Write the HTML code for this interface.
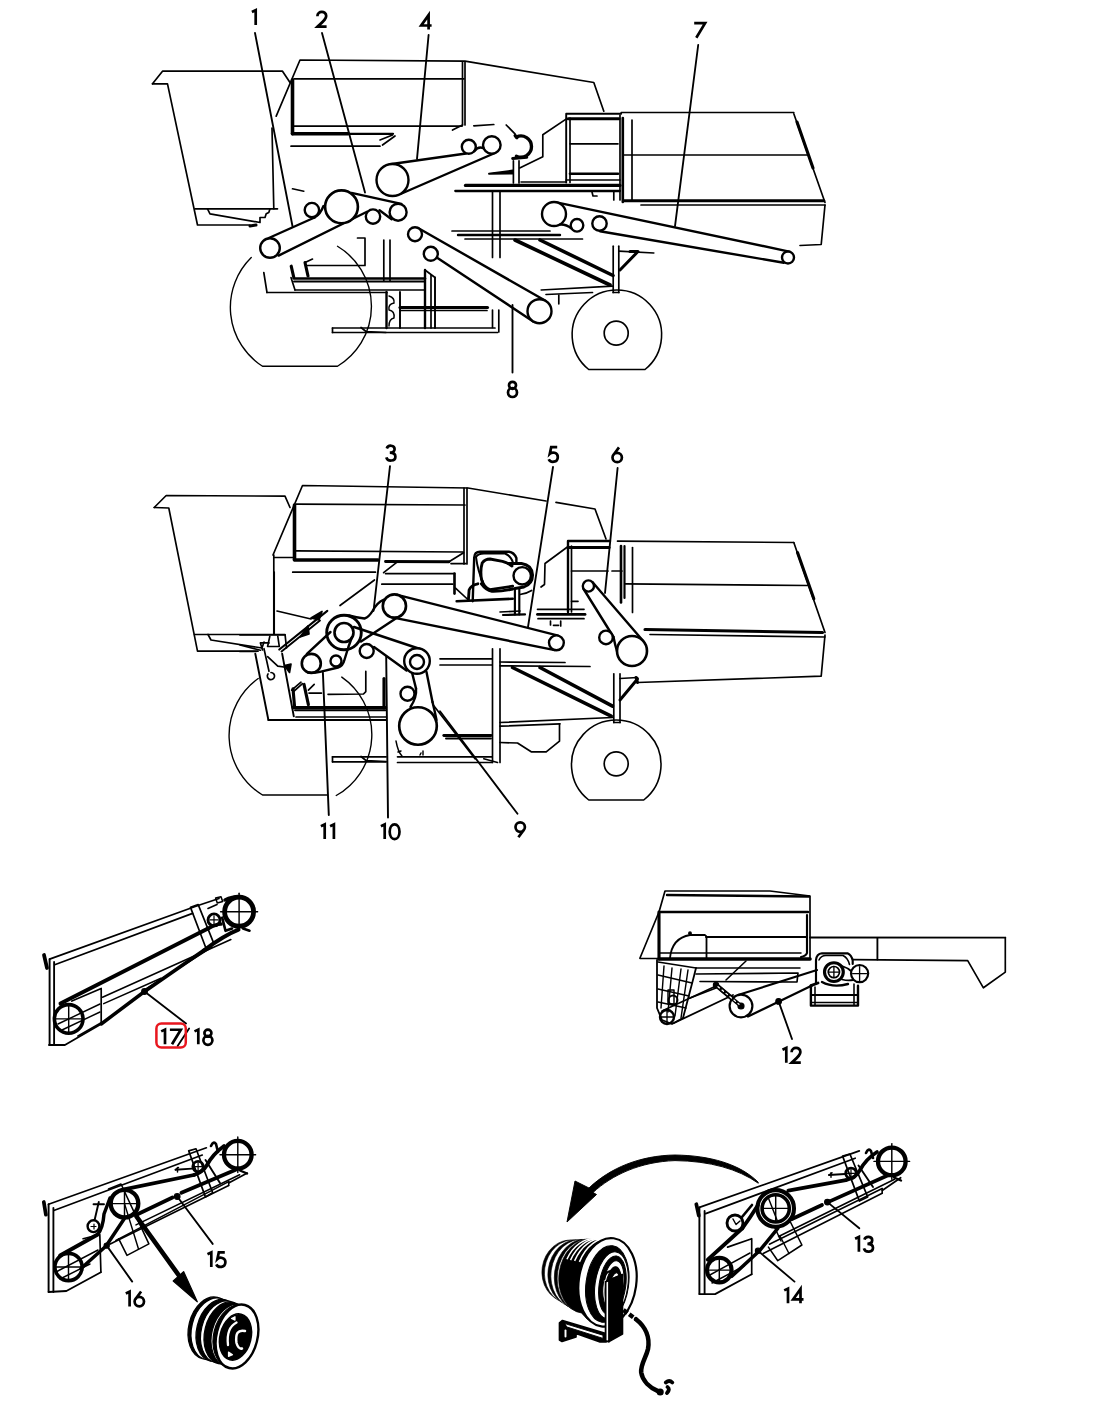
<!DOCTYPE html>
<html><head><meta charset="utf-8"><title>Belt diagram</title>
<style>
html,body{margin:0;padding:0;background:#fff;}
body{width:1100px;height:1422px;overflow:hidden;font-family:"Liberation Sans",sans-serif;}
svg{display:block}
svg text{font-family:"Liberation Sans",sans-serif;fill:#000;stroke:#000;stroke-width:0.5px}
</style></head><body>
<svg width="1100" height="1422" viewBox="0 0 1100 1422">
<rect width="1100" height="1422" fill="#fff"/>
<g stroke="#000" fill="none" stroke-linecap="round" stroke-linejoin="round">
<path d="M152.5 83.8L162.5 71.2L282.5 71.2L290.0 82.5" stroke-width="1.68" fill="none"/>
<path d="M152.5 83.8L167.5 83.8L197.5 225.0L250.0 225.0" stroke-width="1.68" fill="none"/>
<path d="M195.0 208.8L277.5 208.8" stroke-width="1.68"/>
<path d="M272.0 128.0L273.8 208.8" stroke-width="1.68"/>
<path d="M207.5 208.8L210.0 213.8L260.0 222.5L260.0 217.5L265.0 217.5L266.2 213.8L268.8 212.5L270.0 208.8" stroke-width="1.68" fill="none"/>
<path d="M250.0 226.0L256.0 225.0" stroke-width="3.00"/>
<path d="M276.2 116.2L300.0 60.0L465.0 61.2L593.8 82.5L603.8 111.2" stroke-width="1.68" fill="none"/>
<path d="M292.5 80.0L292.5 133.8" stroke-width="3.60"/>
<path d="M294.0 78.8L464.0 78.8" stroke-width="1.68"/>
<path d="M462.5 62.0L462.5 125.0" stroke-width="1.68"/>
<path d="M465.0 62.0L465.0 125.0" stroke-width="1.68"/>
<path d="M294.0 126.2L462.0 126.2" stroke-width="1.68"/>
<path d="M292.5 133.8L348.0 133.8" stroke-width="3.60"/>
<path d="M348.0 133.8L393.0 133.8" stroke-width="2.28"/>
<path d="M291.0 146.2L380.0 146.2" stroke-width="1.68"/>
<path d="M382.5 145.0L395.0 136.0" stroke-width="1.68"/>
<path d="M380.0 140.0L392.5 135.0" stroke-width="1.68"/>
<path d="M452.5 130.0L462.5 125.0" stroke-width="1.68"/>
<path d="M292.5 188.8L303.8 191.2" stroke-width="1.68"/>
<path d="M473.8 125.8L493.8 124.5" stroke-width="1.68"/>
<path d="M506.2 125.0L515.0 133.8" stroke-width="1.68"/>
<path d="M516.4 137 A10.6 10.6 0 1 1 516.4 156.2" stroke-width="3.36" fill="none" />
<path d="M515.2 135.6L517.0 137.6" stroke-width="3.36"/>
<path d="M512.6 158.5L526.8 157.3" stroke-width="2.88"/>
<path d="M513.4 160.8L513.4 183.0" stroke-width="1.68"/>
<path d="M519.0 160.8L519.0 183.0" stroke-width="1.68"/>
<path d="M489.0 173.8L512.6 170.5L512.6 173.5Z" stroke-width="1.92" fill="#000"/>
<path d="M519.7 167.9L542.8 156.7L542.8 134.8L566.4 118.9" stroke-width="1.68" fill="none"/>
<path d="M465.4 185.4L620.0 185.4" stroke-width="3.12"/>
<path d="M455.3 191.0L620.0 191.0" stroke-width="2.28"/>
<path d="M521.0 182.0L566.0 182.0" stroke-width="1.56"/>
<path d="M592.0 192.0L593.0 196.0L597.0 196.0" stroke-width="1.68" fill="none"/>
<path d="M613.8 191.0L613.8 200.0" stroke-width="1.68"/>
<path d="M492.5 191.0L492.5 257.5" stroke-width="1.68"/>
<path d="M500.0 191.0L500.0 257.5" stroke-width="1.68"/>
<path d="M566.2 182.5L566.2 113.8L621.2 113.8" stroke-width="1.92" fill="none"/>
<path d="M570.0 118.0L570.0 182.5" stroke-width="1.68"/>
<path d="M568.0 118.8L619.0 118.8" stroke-width="3.00"/>
<path d="M570.0 143.8L618.0 143.8" stroke-width="1.68"/>
<path d="M570.0 173.8L618.0 173.8" stroke-width="2.64"/>
<path d="M566.2 180.0L620.0 180.0" stroke-width="1.68"/>
<path d="M620.0 115.0L620.0 200.0" stroke-width="1.68"/>
<path d="M622.8 118.0L622.8 202.0" stroke-width="2.64"/>
<path d="M621.2 112.5L793.8 112.5" stroke-width="1.68"/>
<path d="M632.0 120.0L632.0 200.0" stroke-width="1.68"/>
<path d="M624.0 155.0L807.5 155.0" stroke-width="1.68"/>
<path d="M624.0 200.8L823.8 200.8" stroke-width="3.12"/>
<path d="M641.0 205.0L825.0 205.0" stroke-width="1.68"/>
<path d="M793.8 113.8L825.0 202.5" stroke-width="1.68"/>
<path d="M797.0 122.0L813.0 168.0" stroke-width="3.12"/>
<path d="M825.0 205.0L821.2 244.5L800.0 245.5" stroke-width="1.68" fill="none"/>
<path d="M452.0 231.0L550.0 231.0" stroke-width="1.68"/>
<path d="M458.0 235.0L560.0 235.0" stroke-width="2.40"/>
<path d="M465.0 239.0L582.5 239.0" stroke-width="1.68"/>
<path d="M515.0 240.0L610.0 285.0" stroke-width="3.60"/>
<path d="M540.0 240.0L613.0 275.5" stroke-width="3.60"/>
<path d="M613.2 246.2L613.2 292.5" stroke-width="1.68"/>
<path d="M618.8 246.2L618.8 292.5" stroke-width="1.68"/>
<path d="M613.2 292.5L618.8 292.5" stroke-width="1.68"/>
<path d="M618.8 251.2L653.8 253.0" stroke-width="1.68"/>
<path d="M637.5 252.0L620.0 270.0" stroke-width="3.00"/>
<path d="M630.0 251.5L638.0 251.5" stroke-width="3.00"/>
<path d="M541.2 290.0L612.5 286.2" stroke-width="1.68"/>
<path d="M546.0 294.5L592.5 292.5" stroke-width="1.68"/>
<path d="M558.8 295.0L558.8 303.8" stroke-width="1.68"/>
<path d="M556.5 202.3L789.2 251.6" stroke-width="2.40"/>
<path d="M600.0 231.2L783.8 262.8" stroke-width="2.40"/>
<circle cx="554.0" cy="214.0" r="12.0" stroke-width="2.40" fill="#fff"/>
<circle cx="577.0" cy="225.3" r="6.3" stroke-width="2.40" fill="#fff"/>
<circle cx="599.5" cy="223.5" r="7.2" stroke-width="2.40" fill="#fff"/>
<circle cx="788.0" cy="257.5" r="6.0" stroke-width="2.40" fill="#fff"/>
<path d="M560 224.5 Q566 224 571.5 228.5" stroke-width="2.40" fill="none" />
<path d="M390.0 164.2L466.0 153.5" stroke-width="2.40"/>
<path d="M400.5 194.0L495.0 153.0" stroke-width="2.40"/>
<circle cx="392.5" cy="180.0" r="16.0" stroke-width="2.40" fill="#fff"/>
<circle cx="468.8" cy="146.8" r="7.0" stroke-width="2.40" fill="#fff"/>
<circle cx="491.8" cy="145.0" r="8.8" stroke-width="2.40" fill="#fff"/>
<path d="M474.5 151 Q478 146 483.5 148" stroke-width="2.40" fill="none" />
<path d="M418.5 228.2L545.5 300.8" stroke-width="2.40"/>
<path d="M436.0 257.0L533.2 321.4" stroke-width="2.40"/>
<circle cx="415.0" cy="234.2" r="7.0" stroke-width="2.40" fill="#fff"/>
<circle cx="430.8" cy="253.8" r="7.0" stroke-width="2.40" fill="#fff"/>
<circle cx="539.5" cy="311.2" r="12.0" stroke-width="2.40" fill="#fff"/>
<path d="M268.8 238.0L314.6 217.5" stroke-width="2.40"/>
<path d="M314.6 217.5 Q320.5 214 323.5 206" stroke-width="2.40" fill="none" />
<path d="M351.5 192.9L401.4 203.8" stroke-width="2.40"/>
<path d="M391.6 219.3L379.5 210.3" stroke-width="2.40"/>
<path d="M367.0 211.7L278.6 255.6" stroke-width="2.40"/>
<circle cx="270.0" cy="248.0" r="9.8" stroke-width="2.40" fill="#fff"/>
<circle cx="341.5" cy="206.8" r="16.4" stroke-width="2.64" fill="#fff"/>
<circle cx="311.9" cy="210.1" r="7.2" stroke-width="2.40" fill="#fff"/>
<circle cx="373.0" cy="216.6" r="7.2" stroke-width="2.40" fill="#fff"/>
<circle cx="398.1" cy="212.2" r="8.5" stroke-width="2.40" fill="#fff"/>
<path d="M251.25 257.5 A70 70 0 0 0 262.5 366.25 L337.5 366.25 A70 70 0 0 0 337.5 246.25" stroke-width="1.38" fill="none" />
<path d="M588.75 369.5 A44.75 44.75 0 1 1 645 369.5 Z" stroke-width="1.56" fill="none" />
<circle cx="616.2" cy="333.2" r="12.0" stroke-width="1.68" fill="none"/>
<path d="M357.5 238.0L365.0 238.0L365.0 265.5L307.5 265.5" stroke-width="1.68" fill="none"/>
<path d="M305.0 262.5L312.5 259.0" stroke-width="1.68"/>
<path d="M305.0 262.5L308.0 276.0" stroke-width="3.12"/>
<path d="M291.2 266.2L293.8 277.5" stroke-width="3.12"/>
<path d="M293.8 278.5L425.0 278.5" stroke-width="2.64"/>
<path d="M294.0 281.5L425.0 281.5" stroke-width="1.92"/>
<path d="M295.0 290.0L425.0 290.0" stroke-width="1.68"/>
<path d="M267.0 292.5L387.0 292.5" stroke-width="1.68"/>
<path d="M263.8 272.5L267.0 292.5" stroke-width="1.68"/>
<path d="M291.0 277.5L295.0 290.0" stroke-width="1.68"/>
<path d="M383.8 240.0L383.8 281.0" stroke-width="1.68"/>
<path d="M390.0 240.0L390.0 281.0" stroke-width="1.68"/>
<path d="M386.5 292.0L386.5 328.0" stroke-width="2.40"/>
<path d="M400.0 292.0L400.0 328.0" stroke-width="1.92"/>
<path d="M389 296 q6 2 5 7 q-6 1 -5 7 q6 1 5 8 q-5 1 -5 8" stroke-width="1.44" fill="none" />
<path d="M425.0 270.0L425.0 328.0" stroke-width="2.40"/>
<path d="M431.0 275.0L431.0 328.0" stroke-width="1.68"/>
<path d="M435.0 277.5L435.0 328.0" stroke-width="1.92"/>
<path d="M425.0 270.0L435.0 277.5" stroke-width="1.68"/>
<path d="M400.0 307.5L487.5 307.5" stroke-width="3.12"/>
<path d="M400.0 310.5L487.0 310.5" stroke-width="1.68"/>
<path d="M332.5 328.0L495.0 328.0" stroke-width="1.68" fill="none"/>
<path d="M332.5 332.5L497.5 332.5" stroke-width="1.68" fill="none"/>
<path d="M332.5 328.0L332.5 332.5" stroke-width="1.68"/>
<path d="M361.0 327.5L366.0 331.5L386.0 332.5" stroke-width="1.68" fill="none"/>
<path d="M492.5 310.0L492.5 327.5" stroke-width="1.68"/>
<path d="M498.8 310.0L498.8 332.0" stroke-width="1.68"/>
<path d="M255.0 33.0L292.5 226.2" stroke-width="1.86"/>
<path d="M322.0 33.0L365.0 192.5" stroke-width="1.86"/>
<path d="M428.6 35.0L417.0 158.8" stroke-width="1.86"/>
<path d="M698.2 45.0L675.0 226.2" stroke-width="1.86"/>
<path d="M512.5 305.0L512.5 372.5" stroke-width="1.86"/>
<path d="M0.9 3.0 L4.7 1.2 L4.7 15.9" transform="translate(251.0 9.0)" stroke-width="2.7" stroke-linecap="butt" stroke-linejoin="miter"/>
<path d="M1.4 5.4 C1.4 -0.3 10.2 -0.3 10.2 5.2 C10.2 8.2 7.5 10.3 1.6 15.8 L10.6 15.8" transform="translate(316.0 10.8)" stroke-width="2.7" stroke-linecap="butt" stroke-linejoin="miter"/>
<path d="M8.6 15.9 L8.6 1.6 L1.2 12 L11.6 12" transform="translate(420.0 13.5)" stroke-width="2.7" stroke-linecap="butt" stroke-linejoin="miter"/>
<path d="M1.2 1.35 L12.1 1.35 L3.3 15.9" transform="translate(693.0 21.8)" stroke-width="2.7" stroke-linecap="butt" stroke-linejoin="miter"/>
<path d="M9.2 4.7 A3.5 3.5 0 1 1 2.2 4.7 A3.5 3.5 0 1 1 9.2 4.7 M10.2 11.9 A4.5 4.5 0 1 1 1.2 11.9 A4.5 4.5 0 1 1 10.2 11.9" transform="translate(506.8 380.6)" stroke-width="2.7" stroke-linecap="butt" stroke-linejoin="miter"/>
<path d="M154.2 507.5L166.2 495.5L285.0 496.2L290.0 507.5" stroke-width="1.68" fill="none"/>
<path d="M154.2 507.5L168.8 508.0L197.5 651.2L258.0 651.2" stroke-width="1.68" fill="none"/>
<path d="M194.5 634.5L285.0 634.5" stroke-width="1.68"/>
<path d="M273.8 555.0L273.8 634.0" stroke-width="1.68"/>
<path d="M208.0 634.5L211.0 640.0L262.0 648.0L264.0 642.0" stroke-width="1.68" fill="none"/>
<path d="M273.0 555.0L302.5 485.5L468.0 488.0L546.0 501.0" stroke-width="1.68" fill="none"/>
<path d="M556.0 502.4L595.0 509.0L606.0 539.0" stroke-width="1.68" fill="none"/>
<path d="M294.5 505.0L294.5 559.5" stroke-width="3.60"/>
<path d="M296.0 504.2L465.0 505.0" stroke-width="1.68"/>
<path d="M464.0 488.0L464.0 564.0" stroke-width="1.68"/>
<path d="M467.0 488.0L467.0 564.0" stroke-width="1.68"/>
<path d="M296.0 550.8L463.0 552.0" stroke-width="1.68"/>
<path d="M294.5 560.0L378.0 560.0" stroke-width="3.60"/>
<path d="M385.5 561.5L449.0 561.8" stroke-width="2.88"/>
<path d="M449.0 561.8L463.6 552.7" stroke-width="1.68"/>
<path d="M451.0 563.6L466.0 563.6" stroke-width="1.68"/>
<path d="M273.8 557.5L292.5 557.5" stroke-width="1.68"/>
<path d="M292.7 572.2L375.5 572.2" stroke-width="1.68"/>
<path d="M383.6 572.7L396.4 562.7" stroke-width="1.68"/>
<path d="M385.5 573.6L454.5 573.6" stroke-width="1.68" fill="none"/>
<path d="M454.5 573.6L454.5 593.6" stroke-width="2.64"/>
<path d="M381.8 584.2L452.7 584.2" stroke-width="1.68"/>
<path d="M455.5 588.2L467.3 599.0" stroke-width="1.68"/>
<path d="M472.7 601.3 L474.2 557.6 Q474.5 551.8 480 551.8 L509 551.8 Q514 552.5 516.4 558 L516.4 562" stroke-width="2.40" fill="none" />
<path d="M476 557 Q478 553.5 484 553.5 L505 553.5 Q511 556 513 562.5" stroke-width="1.92" fill="none" />
<path d="M476 557 Q478 572 483 582" stroke-width="1.92" fill="none" />
<path d="M482.2 563 Q485 559 490 559 L502.5 561.3 Q508 563 512 566 M512.7 586.2 L490 589.6 Q484 588 481.5 579.5 Q480 570 482.2 563" stroke-width="2.88" fill="none" />
<path d="M508.4 563.5 L521.5 563.5 Q532 565 532.6 575 Q532.5 584 524 587 L515 588.5" stroke-width="2.88" fill="none" />
<path d="M481.5 583.8 Q486 590 492 591.3 Q502 591.5 512.7 588.9" stroke-width="3.12" fill="none" />
<path d="M468.4 600 L469.1 590 Q471 585 477.8 583.8" stroke-width="2.88" fill="none" />
<circle cx="522.2" cy="575.8" r="8.7" stroke-width="2.40" fill="none"/>
<path d="M456.7 601.3L512.7 598.8" stroke-width="2.64"/>
<path d="M514.9 588.5L514.9 614.4" stroke-width="2.16"/>
<path d="M519.3 588.5L519.3 614.4" stroke-width="2.16"/>
<path d="M520 594.5 Q527 593.5 531.6 590.5" stroke-width="1.68" fill="none" />
<path d="M500.0 612.0L520.0 611.0" stroke-width="1.68"/>
<path d="M503.0 615.0L525.0 614.4" stroke-width="2.16"/>
<path d="M553.0 467.0L528.0 627.0" stroke-width="1.86"/>
<path d="M617.6 468.0L605.0 593.0" stroke-width="1.86"/>
<path d="M390.0 466.2L373.5 611.0" stroke-width="1.86"/>
<path d="M567.7 546.7L545.0 563.5L544.5 584.5L541.0 587.0" stroke-width="1.68" fill="none"/>
<path d="M568.0 612.0L568.0 541.0L610.0 541.0" stroke-width="2.40" fill="none"/>
<path d="M571.5 546.0L571.5 612.0" stroke-width="1.68"/>
<path d="M569.0 547.5L609.0 547.5" stroke-width="3.12"/>
<path d="M571.5 571.0L608.0 571.0" stroke-width="1.68"/>
<path d="M571.5 601.3L578.0 601.3" stroke-width="1.68"/>
<path d="M537.5 609.3L584.0 609.3" stroke-width="1.68"/>
<path d="M537.5 614.4L585.0 614.4" stroke-width="2.88"/>
<path d="M538.0 618.7L584.0 618.7" stroke-width="1.68"/>
<path d="M550.5 621.0L550.5 625.0" stroke-width="1.68"/>
<path d="M560.7 621.0L560.7 626.0" stroke-width="1.68"/>
<path d="M553.5 625.3L558.5 625.3" stroke-width="1.68"/>
<path d="M617.5 541.2L793.8 542.5" stroke-width="1.68"/>
<path d="M621.0 546.0L621.0 602.5" stroke-width="2.64"/>
<path d="M624.5 546.0L624.5 598.0" stroke-width="2.16"/>
<path d="M632.5 547.5L632.5 612.5" stroke-width="1.68"/>
<path d="M612.0 571.0L622.0 571.0" stroke-width="1.68"/>
<path d="M625.0 583.8L807.5 585.5" stroke-width="1.68"/>
<path d="M645.0 629.5L822.5 632.5" stroke-width="3.12"/>
<path d="M650.0 634.5L825.0 637.0" stroke-width="1.68"/>
<path d="M793.8 542.5L825.0 632.5" stroke-width="1.68"/>
<path d="M797.5 552.5L813.8 598.8" stroke-width="3.12"/>
<path d="M825.0 635.0L821.2 676.2L637.5 682.5" stroke-width="1.68" fill="none"/>
<path d="M613.8 673.8L613.8 722.5" stroke-width="1.68"/>
<path d="M620.0 673.8L620.0 722.5" stroke-width="1.68"/>
<path d="M613.8 722.5L620.0 722.5" stroke-width="1.68"/>
<path d="M620.0 678.5L637.5 677.5" stroke-width="1.68"/>
<path d="M637.5 679.0L620.0 700.0" stroke-width="3.00"/>
<path d="M636.0 677.5L637.5 682.5" stroke-width="3.00"/>
<path d="M592.6 582.3L643.4 641.2" stroke-width="2.40"/>
<path d="M583.6 589.0L613.5 637.0" stroke-width="2.40"/>
<path d="M613.5 637 Q615 645 617.5 653" stroke-width="2.40" fill="none" />
<circle cx="588.4" cy="586.0" r="5.6" stroke-width="2.40" fill="#fff"/>
<circle cx="606.0" cy="637.4" r="6.8" stroke-width="2.40" fill="#fff"/>
<circle cx="632.0" cy="651.0" r="15.0" stroke-width="2.64" fill="#fff"/>
<path d="M397.3 594.8L558.2 635.6" stroke-width="2.40"/>
<path d="M392.1 617.4L554.9 650.1" stroke-width="2.40"/>
<circle cx="556.4" cy="642.8" r="7.4" stroke-width="2.40" fill="#fff"/>
<path d="M440.0 658.8L492.0 658.8" stroke-width="1.68"/>
<path d="M440.0 665.0L492.0 665.0" stroke-width="1.68"/>
<path d="M500.0 662.0L565.0 662.5" stroke-width="1.68"/>
<path d="M500.0 665.8L590.0 666.5" stroke-width="1.68"/>
<path d="M492.5 648.8L492.5 762.5" stroke-width="1.68"/>
<path d="M500.0 648.8L500.0 762.5" stroke-width="1.68"/>
<path d="M483.8 758.8L497.5 762.5" stroke-width="1.68" fill="none"/>
<path d="M512.5 667.5L611.2 716.2" stroke-width="3.60"/>
<path d="M540.0 667.5L612.5 706.2" stroke-width="3.60"/>
<path d="M500.0 722.5L612.5 717.5" stroke-width="1.68"/>
<path d="M500.0 726.2L560.0 723.8" stroke-width="1.68"/>
<path d="M500.0 742.5L517.5 743.0L531.2 751.8L546.2 751.8L559.5 741.2L559.5 723.8" stroke-width="1.68" fill="none"/>
<path d="M354.0 627.0L420.0 649.0" stroke-width="2.40"/>
<path d="M374.0 647.0L406.5 670.5" stroke-width="2.40"/>
<path d="M412.0 672.5L416.0 688.5" stroke-width="2.40"/>
<path d="M416 688.5 Q417 697 410.5 707" stroke-width="2.40" fill="none" />
<path d="M426.5 672.0L432.5 702.0" stroke-width="2.40"/>
<path d="M432.5 702 Q435 712 436.5 720" stroke-width="2.40" fill="none" />
<circle cx="417.0" cy="661.0" r="12.8" stroke-width="2.40" fill="#fff"/>
<circle cx="417.0" cy="662.0" r="7.0" stroke-width="2.40" fill="none"/>
<circle cx="407.5" cy="693.7" r="7.0" stroke-width="2.40" fill="#fff"/>
<circle cx="418.0" cy="726.0" r="18.8" stroke-width="2.64" fill="#fff"/>
<path d="M434.0 706.0L475.0 758.8" stroke-width="1.68"/>
<path d="M443.8 735.5L491.0 735.5" stroke-width="2.88"/>
<path d="M446.0 738.5L491.0 738.5" stroke-width="1.92"/>
<path d="M397.5 756.8L492.0 756.8" stroke-width="1.68"/>
<path d="M397.5 762.5L492.0 762.5" stroke-width="1.68"/>
<path d="M396 741 Q398 752 402 756 M398 752 l3 -1 M420 755 l1 -2 m2 2 l0 -4" stroke-width="1.44" fill="none" />
<path d="M349 615.5 Q356 617.5 364.5 618.5 Q369 617 372.5 611 Q377 602.5 383.5 599.8" stroke-width="2.40" fill="none" />
<path d="M398.0 617.0L361.0 641.5" stroke-width="2.40"/>
<path d="M306.9 653.8L330.5 632.0" stroke-width="2.40"/>
<path d="M352 637 L348.4 647 L344.4 660 Q343 666 338 667.5 L320 671.8 Q313 673.5 308 672.5" stroke-width="2.40" fill="none" />
<circle cx="344.0" cy="632.5" r="17.3" stroke-width="2.88" fill="none"/>
<circle cx="344.0" cy="632.5" r="9.5" stroke-width="2.64" fill="none"/>
<circle cx="311.3" cy="663.4" r="9.5" stroke-width="2.64" fill="none"/>
<circle cx="336.0" cy="661.0" r="5.5" stroke-width="2.40" fill="none"/>
<circle cx="366.7" cy="651.0" r="7.0" stroke-width="2.40" fill="none"/>
<circle cx="394.4" cy="606.0" r="11.6" stroke-width="2.64" fill="#fff"/>
<path d="M274.2 572.0L274.2 634.0" stroke-width="1.68"/>
<path d="M277.0 611.0L311.0 619.0" stroke-width="1.68"/>
<path d="M340.0 605.5L374.5 580.0" stroke-width="1.68"/>
<path d="M279.3 649.5L327.3 610.9" stroke-width="2.16"/>
<path d="M281.5 651.5L320.0 620.5" stroke-width="1.86"/>
<path d="M311.0 618.0L322.0 611.5L319.0 620.0Z" stroke-width="1.68" fill="#000"/>
<path d="M300.0 637.0L308.0 626.0L309.0 634.0Z" stroke-width="1.68" fill="#000"/>
<path d="M240.0 634.9L285.1 634.9L286.5 648.0" stroke-width="1.68" fill="none"/>
<path d="M269.8 636.4L267.6 646.5L279.3 646.5L277.8 636.4" stroke-width="1.68" fill="none"/>
<path d="M262.5 650.0L260.4 642.9L269.0 642.9" stroke-width="1.68" fill="none"/>
<path d="M240.0 645.0L260.4 650.2" stroke-width="1.68"/>
<path d="M240.0 651.5L256.0 651.5" stroke-width="1.68"/>
<path d="M255.3 653.8L268.4 720.0L293.8 720.0" stroke-width="1.92" fill="none"/>
<path d="M282.2 653.8L293.8 716.4" stroke-width="1.92"/>
<path d="M264.0 648.7L269.0 671.3" stroke-width="1.68"/>
<path d="M271 672.5 a3.6 3.6 0 1 1 -3 1.5" stroke-width="1.68" fill="none" />
<path d="M267.6 656.7L277.8 666.2L284.0 667.0" stroke-width="1.68" fill="none"/>
<path d="M284.5 665.5L291.0 664.0L289.5 672.5Z" stroke-width="1.68" fill="#000"/>
<path d="M293.0 688.7L294.5 706.2" stroke-width="3.12"/>
<path d="M291.6 690.2L301.0 682.2" stroke-width="1.68"/>
<path d="M293.0 692.0L302.5 683.6" stroke-width="1.68"/>
<path d="M304.0 684.4L308.4 704.7" stroke-width="3.12"/>
<path d="M308.4 690.2L314.2 684.4" stroke-width="1.68"/>
<path d="M309.0 693.1L321.5 693.1" stroke-width="1.68"/>
<path d="M293.0 707.6L385.5 707.6" stroke-width="3.12"/>
<path d="M295.0 710.2L385.5 710.2" stroke-width="1.92"/>
<path d="M268.4 720.0L386.0 720.0" stroke-width="1.92"/>
<path d="M296.0 717.0L386.0 717.0" stroke-width="1.68"/>
<path d="M365.8 671.3L365.8 691.6L363.5 694.0L328.0 694.3" stroke-width="1.68" fill="none"/>
<path d="M322.9 672.7L328.8 815.0" stroke-width="1.92"/>
<path d="M386.2 656.2L388.0 817.5" stroke-width="1.92"/>
<path d="M384.0 678.5L384.0 708.0" stroke-width="3.12"/>
<path d="M332.5 756.8L386.2 756.8" stroke-width="1.68" fill="none"/>
<path d="M332.5 761.8L386.2 761.8" stroke-width="1.68" fill="none"/>
<path d="M332.5 756.8L332.5 761.8" stroke-width="1.68"/>
<path d="M361.0 756.5L366.0 760.5L386.0 761.5" stroke-width="1.68" fill="none"/>
<path d="M258.2 678.5 A70 70 0 0 0 262.5 795 L327.5 795" stroke-width="1.38" fill="none" />
<path d="M336.25 795.5 A70 70 0 0 0 341.8 677.1" stroke-width="1.38" fill="none" />
<path d="M588.75 800 A44.75 44.75 0 1 1 643.75 800 Z" stroke-width="1.56" fill="none" />
<circle cx="616.2" cy="763.8" r="12.0" stroke-width="1.68" fill="none"/>
<path d="M440.0 711.2L517.5 813.8" stroke-width="1.86"/>
<path d="M1.6 3.8 C2.8 -0.2 9.6 0.2 9.4 4.6 C9.3 7 7.2 8 4.6 8 C7.6 8 10.2 9.2 10.2 12 C10.2 16.8 2.4 17.2 1.1 12.6" transform="translate(385.2 444.7)" stroke-width="2.7" stroke-linecap="butt" stroke-linejoin="miter"/>
<path d="M9.6 1.2 L3.6 1.2 L2.2 7.8 C4.5 5.6 10.2 6.2 10.2 10.9 C10.2 16.8 2.8 17 1.1 13.2" transform="translate(547.6 446.0)" stroke-width="2.7" stroke-linecap="butt" stroke-linejoin="miter"/>
<path d="M7.6 1.0 L2.0 8.6 M10.5 11.1 A4.7 4.7 0 1 1 1.1 11.1 A4.7 4.7 0 1 1 10.5 11.1" transform="translate(611.4 446.4)" stroke-width="2.7" stroke-linecap="butt" stroke-linejoin="miter"/>
<path d="M0.9 3.0 L4.7 1.2 L4.7 15.9" transform="translate(320.0 823.2)" stroke-width="2.7" stroke-linecap="butt" stroke-linejoin="miter"/>
<path d="M0.9 3.0 L4.7 1.2 L4.7 15.9" transform="translate(329.2 823.2)" stroke-width="2.7" stroke-linecap="butt" stroke-linejoin="miter"/>
<path d="M0.9 3.0 L4.7 1.2 L4.7 15.9" transform="translate(380.0 823.2)" stroke-width="2.7" stroke-linecap="butt" stroke-linejoin="miter"/>
<path d="M10.9 8.5 C10.9 -1.3 1.1 -1.3 1.1 8.5 C1.1 18.3 10.9 18.3 10.9 8.5 Z" transform="translate(388.6 823.2)" stroke-width="2.7" stroke-linecap="butt" stroke-linejoin="miter"/>
<path d="M4.4 16.0 L10.0 8.4 M10.9 5.9 A4.7 4.7 0 1 1 1.5 5.9 A4.7 4.7 0 1 1 10.9 5.9" transform="translate(514.0 821.2)" stroke-width="2.7" stroke-linecap="butt" stroke-linejoin="miter"/>
<path d="M49.6 959.1L49.6 1045.0" stroke-width="1.92"/>
<path d="M54.1 962.0L54.1 1045.0" stroke-width="1.86"/>
<path d="M44.0 955.0L47.0 968.0" stroke-width="3.72"/>
<path d="M49.6 959.1L198.0 905.5" stroke-width="1.68"/>
<path d="M54.7 964.8L192.6 913.4" stroke-width="1.68"/>
<path d="M190.5 907.4L198.2 904.6L214.0 943.9L205.8 947.7Z" stroke-width="1.68" fill="none"/>
<path d="M215.6 898.0L221.0 896.8L222.7 901.4L217.3 903.0Z" stroke-width="1.56" fill="none"/>
<path d="M198.0 905.5L219.0 898.5" stroke-width="1.68"/>
<path d="M208.0 908.5L217.0 904.5" stroke-width="1.68"/>
<path d="M49.0 1045.0L64.9 1045.0L101.2 1024.0" stroke-width="1.80" fill="none"/>
<path d="M101.2 1024.0L144.5 991.5" stroke-width="3.48"/>
<path d="M144.5 991.5L203.6 950.5" stroke-width="3.72"/>
<path d="M203.6 950.5 Q225 935 238.5 929.7" stroke-width="3.96" fill="none" />
<path d="M102.5 997.3L230.9 939.5" stroke-width="1.56"/>
<path d="M103.7 1003.6L161.0 978.2" stroke-width="1.56"/>
<path d="M146.0 989.0L212.0 947.0" stroke-width="1.56"/>
<path d="M71.9 1001.1L101.2 988.4L101.2 1022.7L78.0 1036.0" stroke-width="1.68" fill="none"/>
<path d="M60.5 1003.6L208.0 928.6" stroke-width="3.96"/>
<path d="M208 928.6 Q216 924 221 924" stroke-width="3.72" fill="none" />
<path d="M58.0 1024.0L100.0 1004.0" stroke-width="1.44"/>
<path d="M62.0 1030.0L100.0 1012.0" stroke-width="1.44"/>
<circle cx="68.7" cy="1018.9" r="14.3" stroke-width="3.60" fill="none"/>
<path d="M54.4 1018.9L83.0 1018.9" stroke-width="1.44"/>
<path d="M68.7 1004.6L68.7 1033.2" stroke-width="1.44"/>
<circle cx="239.1" cy="911.7" r="14.5" stroke-width="4.80" fill="none"/>
<path d="M220.6 911.7L257.6 911.7" stroke-width="1.44"/>
<path d="M239.1 893.2L239.1 930.2" stroke-width="1.44"/>
<circle cx="214.0" cy="919.9" r="6.0" stroke-width="2.88" fill="none"/>
<path d="M210.0 919.9L218.0 919.9" stroke-width="1.20"/>
<path d="M214.0 915.9L214.0 923.9" stroke-width="1.20"/>
<path d="M222.2 917.7L225.5 930.8L232.0 928.6" stroke-width="2.64" fill="none"/>
<path d="M243.0 928.5L249.5 930.7" stroke-width="2.64"/>
<path d="M225 900 Q232 896.5 240 896.5" stroke-width="3.48" fill="none" />
<circle cx="144.5" cy="991.5" r="2.8" stroke-width="1.20" fill="#000"/>
<path d="M144.5 991.5L186.0 1023.5" stroke-width="1.86"/>
<path d="M0.9 3.0 L4.7 1.2 L4.7 15.9" transform="translate(160.3 1028.4)" stroke-width="2.7" stroke-linecap="butt" stroke-linejoin="miter"/>
<path d="M1.2 1.35 L12.1 1.35 L3.3 15.9" transform="translate(168.7 1028.4)" stroke-width="2.7" stroke-linecap="butt" stroke-linejoin="miter"/>
<path d="M189.1 1028.4L177.6 1046.0" stroke-width="1.80"/>
<path d="M0.9 3.0 L4.7 1.2 L4.7 15.9" transform="translate(193.6 1028.4)" stroke-width="2.7" stroke-linecap="butt" stroke-linejoin="miter"/>
<path d="M9.2 4.7 A3.5 3.5 0 1 1 2.2 4.7 A3.5 3.5 0 1 1 9.2 4.7 M10.2 11.9 A4.5 4.5 0 1 1 1.2 11.9 A4.5 4.5 0 1 1 10.2 11.9" transform="translate(202.2 1028.4)" stroke-width="2.7" stroke-linecap="butt" stroke-linejoin="miter"/>
<rect x="156.4" y="1023.5" width="29.4" height="24.1" rx="5" ry="5" fill="none" stroke="#e8161e" stroke-width="2.5"/>
<path d="M48.6 1204.2L48.6 1292.0" stroke-width="1.92"/>
<path d="M53.4 1208.0L53.4 1292.0" stroke-width="1.86"/>
<path d="M43.8 1202.0L45.9 1214.7" stroke-width="3.72"/>
<path d="M48.6 1204.2L206.4 1147.8" stroke-width="1.68"/>
<path d="M53.8 1210.5L202.3 1155.0" stroke-width="1.68"/>
<path d="M48.6 1292.0L66.4 1291.0L100.9 1272.2" stroke-width="1.80" fill="none"/>
<path d="M136.0 1224.9L239.6 1174.7" stroke-width="1.56"/>
<path d="M115.9 1240.4L228.7 1181.6" stroke-width="1.56"/>
<path d="M109.7 1244.2L228.7 1185.5" stroke-width="1.56"/>
<path d="M228.7 1185.5L228.7 1181.6" stroke-width="1.56"/>
<path d="M228.7 1183.0L247.3 1173.1" stroke-width="1.68"/>
<path d="M83.1 1238.7L99.8 1234.5L100.9 1272.2" stroke-width="1.68" fill="none"/>
<path d="M188.7 1150.9L196.0 1148.8L212.7 1192.7L205.4 1196.9Z" stroke-width="1.68" fill="none"/>
<path d="M108.5 1189.0L121.0 1184.0L148.9 1243.9L127.0 1255.4L118.6 1238.7" stroke-width="1.56" fill="none"/>
<path d="M124.5 1203.6L138.5 1249.0" stroke-width="1.44"/>
<path d="M122.8 1189.6L193.9 1175.0" stroke-width="3.72"/>
<path d="M193.9 1175 Q203 1172 207 1165 Q213 1154 224 1146" stroke-width="3.72" fill="none" />
<path d="M235.7 1169.7L181.4 1192.7" stroke-width="3.72"/>
<path d="M172.5 1197.5L137.0 1214.5" stroke-width="3.72"/>
<path d="M205.5 1160.0L220.0 1183.0" stroke-width="1.92"/>
<path d="M60.1 1255.4L97.7 1234.5" stroke-width="3.96"/>
<path d="M97.7 1234.5 Q103 1228 104 1214 L110 1198" stroke-width="3.48" fill="none" />
<path d="M124.9 1217.8L106.1 1246.0" stroke-width="3.48"/>
<path d="M106.1 1246.0L81.0 1268.5" stroke-width="3.48"/>
<path d="M56.0 1272.0L98.0 1250.0" stroke-width="1.44"/>
<path d="M60.0 1279.0L90.0 1264.0" stroke-width="1.44"/>
<circle cx="68.5" cy="1267.0" r="13.6" stroke-width="3.60" fill="none"/>
<path d="M54.9 1267.0L82.1 1267.0" stroke-width="1.44"/>
<path d="M68.5 1253.4L68.5 1280.6" stroke-width="1.44"/>
<circle cx="124.5" cy="1203.6" r="13.8" stroke-width="4.32" fill="none"/>
<path d="M110.7 1203.6L138.3 1203.6" stroke-width="1.44"/>
<path d="M124.5 1189.8L124.5 1217.4" stroke-width="1.44"/>
<circle cx="237.8" cy="1154.7" r="13.8" stroke-width="4.32" fill="none"/>
<path d="M220.0 1154.7L255.6 1154.7" stroke-width="1.44"/>
<path d="M237.8 1136.9L237.8 1172.5" stroke-width="1.44"/>
<circle cx="93.5" cy="1226.2" r="5.9" stroke-width="2.40" fill="#fff"/>
<path d="M91.0 1226.5L96.0 1226.5" stroke-width="1.20"/>
<path d="M94.0 1224.0L94.0 1229.0" stroke-width="1.20"/>
<path d="M94.6 1220.0L98.8 1202.0" stroke-width="1.92"/>
<path d="M93.5 1204.2L104.0 1204.2" stroke-width="1.86"/>
<circle cx="198.1" cy="1166.6" r="5.2" stroke-width="2.88" fill="none"/>
<path d="M194.6 1166.6L201.6 1166.6" stroke-width="1.20"/>
<path d="M198.1 1163.1L198.1 1170.1" stroke-width="1.20"/>
<path d="M175.5 1169.7L192.0 1168.6" stroke-width="1.86"/>
<path d="M175.5 1169.7L178.5 1167.5" stroke-width="1.44"/>
<path d="M177.5 1167.5L177.5 1172.0" stroke-width="1.44"/>
<path d="M211 1146 q2.5 -5.5 5 -2 l2 8" stroke-width="2.64" fill="none" />
<path d="M240.0 1170.5L247.0 1173.5" stroke-width="2.40"/>
<circle cx="177.2" cy="1196.5" r="2.8" stroke-width="1.20" fill="#000"/>
<path d="M177.2 1196.5L212.7 1243.9" stroke-width="1.86"/>
<circle cx="106.7" cy="1245.6" r="2.6" stroke-width="1.20" fill="#000"/>
<path d="M106.7 1245.6L132.2 1281.6" stroke-width="1.86"/>
<path d="M0.9 3.0 L4.7 1.2 L4.7 15.9" transform="translate(206.6 1251.2)" stroke-width="2.7" stroke-linecap="butt" stroke-linejoin="miter"/>
<path d="M9.6 1.2 L3.6 1.2 L2.2 7.8 C4.5 5.6 10.2 6.2 10.2 10.9 C10.2 16.8 2.8 17 1.1 13.2" transform="translate(215.2 1251.2)" stroke-width="2.7" stroke-linecap="butt" stroke-linejoin="miter"/>
<path d="M0.9 3.0 L4.7 1.2 L4.7 15.9" transform="translate(124.9 1290.5)" stroke-width="2.7" stroke-linecap="butt" stroke-linejoin="miter"/>
<path d="M7.6 1.0 L2.0 8.6 M10.5 11.1 A4.7 4.7 0 1 1 1.1 11.1 A4.7 4.7 0 1 1 10.5 11.1" transform="translate(133.5 1290.5)" stroke-width="2.7" stroke-linecap="butt" stroke-linejoin="miter"/>
<path d="M136.5 1216.5L180.0 1277.0" stroke-width="4.68"/>
<path d="M173.2 1281.0L183.6 1271.6L197.3 1301.8Z" stroke-width="1.20" fill="#000"/>
<ellipse cx="210" cy="1328.0" rx="21.3" ry="31.5" transform="rotate(14 210 1328.0)" stroke-width="1.2" fill="#000"/>
<ellipse cx="213" cy="1328.9" rx="21.3" ry="31.5" transform="rotate(14 213 1328.9)" stroke-width="1.2" fill="#fff"/>
<ellipse cx="218" cy="1330.5" rx="21.3" ry="31.5" transform="rotate(14 218 1330.5)" stroke-width="1.2" fill="#000"/>
<ellipse cx="222.5" cy="1331.9" rx="21.3" ry="31.5" transform="rotate(14 222.5 1331.9)" stroke-width="1.2" fill="#fff"/>
<ellipse cx="226" cy="1333.0" rx="21.3" ry="31.5" transform="rotate(14 226 1333.0)" stroke-width="1.2" fill="#000"/>
<ellipse cx="233" cy="1335.2" rx="21.3" ry="31.5" transform="rotate(14 233 1335.2)" stroke-width="1.2" fill="#fff"/>
<ellipse cx="235" cy="1335.9" rx="21.3" ry="31.5" transform="rotate(14 235 1335.9)" stroke-width="1.2" fill="#000"/>
<ellipse cx="237" cy="1336.5" rx="20.5" ry="32.5" transform="rotate(14 237 1336.5)" stroke-width="2.4" fill="#fff"/>
<ellipse cx="235.5" cy="1337" rx="15.5" ry="23.5" transform="rotate(14 235.5 1337)" stroke-width="1.5" fill="#000"/>
<path d="M236.5 1322.5 Q226 1328 228 1345" stroke="#fff" stroke-width="2.3" fill="none"/>
<path d="M245 1331 Q234.5 1328.5 236.5 1343 Q238.5 1349.5 242 1348.5" stroke="#fff" stroke-width="2.5" fill="none"/>
<path d="M231.5 1318.5 l3.5 -1.8 l0 3.4 z M228.5 1352 l4 2.8 l-4 1.6 z" stroke="#fff" stroke-width="1.2" fill="#fff"/>
<path d="M640.0 958.0L659.0 912.0L665.0 891.0L770.0 891.0L810.0 896.0L810.0 959.0" stroke-width="1.68" fill="none"/>
<path d="M667.0 895.0L809.0 896.5" stroke-width="2.40"/>
<path d="M659.0 912.0L659.0 959.0" stroke-width="3.12"/>
<path d="M659.0 912.0L808.0 912.0" stroke-width="2.40"/>
<path d="M807 915 L807 953 Q806 956 801 957" stroke-width="2.16" fill="none" />
<path d="M640.0 958.5L659.0 958.5" stroke-width="1.56"/>
<path d="M659.0 959.0L810.0 959.0" stroke-width="3.60"/>
<path d="M660.0 953.0L801.0 953.0" stroke-width="1.56"/>
<path d="M706.0 937.0L807.0 937.0" stroke-width="1.86"/>
<path d="M810.0 937.5L1005.3 937.6" stroke-width="1.86"/>
<path d="M1005.3 937.6L1005.3 972.1L983.4 987.8L967.7 960.6L852.7 959.6" stroke-width="1.68" fill="none"/>
<path d="M877.4 938.0L877.4 959.6" stroke-width="1.86"/>
<path d="M670 958 Q672 938 690 935 L705 935 Q706.5 935.5 706.5 938 L706.5 958" stroke-width="1.80" fill="none" />
<circle cx="690.0" cy="933.2" r="1.3" stroke-width="1.20" fill="#000"/>
<path d="M657.0 960.0L657.0 1008.0L662.0 1020.0L672.0 1024.0L683.0 1018.0L694.0 976.0L696.0 968.0" stroke-width="1.80" fill="none"/>
<path d="M658.0 962.0L696.0 968.0" stroke-width="1.56"/>
<path d="M664.0 966.0L661.0 1008.0" stroke-width="1.44"/>
<path d="M672.0 968.0L668.0 1012.0" stroke-width="1.44"/>
<path d="M681.0 969.0L675.0 1016.0" stroke-width="1.44"/>
<path d="M688.0 970.0L681.0 1018.0" stroke-width="1.44"/>
<path d="M658.0 975.0L692.0 983.0" stroke-width="1.44"/>
<path d="M658.0 989.0L689.0 996.0" stroke-width="1.44"/>
<path d="M658.0 1002.0L686.0 1008.0" stroke-width="1.44"/>
<path d="M668.0 990.0L668.0 1004.0L674.0 1004.0L674.0 990.0Z" stroke-width="1.44" fill="none"/>
<circle cx="667.0" cy="1017.0" r="7.0" stroke-width="2.40" fill="none"/>
<path d="M660.0 1017.0L674.0 1017.0" stroke-width="1.32"/>
<path d="M667.0 1010.0L667.0 1024.0" stroke-width="1.32"/>
<circle cx="673.0" cy="1000.0" r="4.5" stroke-width="1.92" fill="none"/>
<path d="M674.0 1023.0L733.0 995.0" stroke-width="1.80"/>
<path d="M690.0 998.0L716.0 988.0" stroke-width="1.80"/>
<path d="M662.0 1011.0L716.0 986.0" stroke-width="1.56"/>
<path d="M696.0 974.0L798.0 973.0L797.0 982.0L700.0 981.5" stroke-width="1.68" fill="none"/>
<path d="M746.0 961.0L726.0 980.0" stroke-width="1.56"/>
<path d="M696.0 968.0L800.0 968.0" stroke-width="1.44"/>
<path d="M716.0 985.0L741.0 1006.0" stroke-width="4.80"/>
<path d="M716 985L741 1006" stroke="#fff" stroke-width="1.6" stroke-dasharray="2 3" fill="none"/>
<circle cx="716.0" cy="985.0" r="2.6" stroke-width="1.20" fill="#000"/>
<path d="M738.0 995.0L817.0 970.0" stroke-width="2.16"/>
<path d="M748.0 1016.5L812.0 985.5" stroke-width="2.16"/>
<circle cx="741.0" cy="1006.0" r="11.4" stroke-width="2.16" fill="#fff"/>
<circle cx="741.0" cy="1006.0" r="3.0" stroke-width="1.20" fill="#000"/>
<path d="M716.0 985.0L741.0 1006.0" stroke-width="3.84"/>
<path d="M718 986.7L739 1004.3" stroke="#fff" stroke-width="1.2" stroke-dasharray="2 3.2" fill="none"/>
<path d="M816 983.6 L816 960 Q816.5 954 822 953.3 L847.5 953.3 Q851.5 955 852.7 960.6 L852.7 964" stroke-width="2.16" fill="none" />
<path d="M819 960 Q821 955.5 826 955.5 L843 955.5 Q848 958 849.5 964.5" stroke-width="1.56" fill="none" />
<circle cx="833.9" cy="972.1" r="9.4" stroke-width="3.12" fill="none"/>
<circle cx="833.9" cy="972.1" r="5.6" stroke-width="1.68" fill="none"/>
<path d="M828.3 972.1L839.5 972.1" stroke-width="1.32"/>
<path d="M833.9 966.5L833.9 977.7" stroke-width="1.32"/>
<circle cx="859.6" cy="973.6" r="8.6" stroke-width="2.16" fill="#fff"/>
<path d="M852.6 973.6L866.6 973.6" stroke-width="1.32"/>
<path d="M859.6 966.6L859.6 980.6" stroke-width="1.32"/>
<path d="M842 966 Q848 968 851 971 M842 979.5 Q848 981 853 980" stroke-width="1.80" fill="none" />
<path d="M822 982 Q833 988 848 984" stroke-width="2.40" fill="none" />
<path d="M810.9 985.7L810.9 1005.6L858.0 1005.6L858.0 985.7" stroke-width="2.40" fill="none"/>
<path d="M811.0 995.0L858.0 995.0" stroke-width="1.86"/>
<path d="M815.0 987.0L815.0 1005.0" stroke-width="1.56"/>
<path d="M854.0 984.0L854.0 1005.0" stroke-width="1.56"/>
<path d="M811.0 1002.5L858.0 1002.5" stroke-width="1.44"/>
<path d="M810.9 985.7L818.0 983.0" stroke-width="2.88"/>
<circle cx="778.6" cy="1001.4" r="2.8" stroke-width="1.20" fill="#000"/>
<path d="M778.6 1001.4L792.0 1039.0" stroke-width="1.86"/>
<path d="M0.9 3.0 L4.7 1.2 L4.7 15.9" transform="translate(781.6 1046.8)" stroke-width="2.7" stroke-linecap="butt" stroke-linejoin="miter"/>
<path d="M1.4 5.4 C1.4 -0.3 10.2 -0.3 10.2 5.2 C10.2 8.2 7.5 10.3 1.6 15.8 L10.6 15.8" transform="translate(790.2 1046.8)" stroke-width="2.7" stroke-linecap="butt" stroke-linejoin="miter"/>
<path d="M699.4 1207.4L699.4 1294.1" stroke-width="1.92"/>
<path d="M704.6 1211.0L704.6 1294.1" stroke-width="1.86"/>
<path d="M696.3 1204.2L698.8 1215.7" stroke-width="3.72"/>
<path d="M699.4 1207.4L859.3 1150.9" stroke-width="1.68"/>
<path d="M705.7 1213.6L855.2 1158.2" stroke-width="1.68"/>
<path d="M699.4 1294.1L715.1 1294.1L751.7 1274.3" stroke-width="1.80" fill="none"/>
<path d="M778.6 1236.5L894.6 1179.3" stroke-width="1.56"/>
<path d="M769.4 1244.2L882.2 1188.5" stroke-width="1.56"/>
<path d="M763.2 1253.5L882.2 1193.2" stroke-width="1.56"/>
<path d="M882.2 1193.2L882.2 1188.5" stroke-width="1.56"/>
<path d="M882.2 1190.5L900.7 1177.7" stroke-width="1.68"/>
<path d="M727.6 1247.1L751.7 1238.7L751.7 1274.3" stroke-width="1.68" fill="none"/>
<path d="M842.6 1156.1L849.9 1154.0L867.7 1196.9L859.4 1201.1Z" stroke-width="1.68" fill="none"/>
<path d="M768.4 1247.1L777.8 1260.7L801.9 1245.0L790.4 1222.0" stroke-width="1.56" fill="none"/>
<path d="M780.0 1236.0L789.0 1253.5" stroke-width="1.44"/>
<path d="M774.0 1226.0L781.0 1241.0" stroke-width="1.44"/>
<path d="M788.3 1190.6L845.8 1180.2" stroke-width="3.72"/>
<path d="M845.8 1180.2 Q856 1178 860 1170 Q866 1159 877 1152" stroke-width="3.72" fill="none" />
<path d="M888.6 1175.0L828.0 1202.1" stroke-width="3.72"/>
<path d="M822.0 1205.0L792.0 1219.0" stroke-width="3.72"/>
<path d="M858.5 1165.5L873.0 1187.0" stroke-width="1.92"/>
<path d="M707.8 1259.6L742.3 1228.3" stroke-width="3.96"/>
<path d="M742.3 1228.3 Q750 1218 758 1205" stroke-width="3.72" fill="none" />
<path d="M777.8 1228.3L759.0 1251.3" stroke-width="3.48"/>
<path d="M759.0 1251.3L731.8 1276.3" stroke-width="3.48"/>
<path d="M708.0 1276.0L750.0 1253.0" stroke-width="1.44"/>
<path d="M712.0 1283.0L744.0 1266.0" stroke-width="1.44"/>
<circle cx="719.3" cy="1270.1" r="12.3" stroke-width="4.08" fill="none"/>
<path d="M707.0 1270.1L731.6 1270.1" stroke-width="1.44"/>
<path d="M719.3 1257.8L719.3 1282.4" stroke-width="1.44"/>
<circle cx="775.7" cy="1208.4" r="18.3" stroke-width="4.08" fill="none"/>
<circle cx="775.7" cy="1208.4" r="13.6" stroke-width="3.60" fill="none"/>
<path d="M762.1 1208.4L789.3 1208.4" stroke-width="1.44"/>
<path d="M775.7 1194.8L775.7 1222.0" stroke-width="1.44"/>
<path d="M768.0 1197.0L777.0 1220.0" stroke-width="1.44"/>
<circle cx="891.8" cy="1161.4" r="13.8" stroke-width="4.32" fill="none"/>
<path d="M874.0 1161.4L909.6 1161.4" stroke-width="1.44"/>
<path d="M891.8 1143.6L891.8 1179.2" stroke-width="1.44"/>
<circle cx="735.0" cy="1223.0" r="8.0" stroke-width="2.88" fill="#fff"/>
<path d="M733.0 1219.0L736.0 1224.5L740.0 1221.0" stroke-width="1.44" fill="none"/>
<path d="M742.0 1217.0L752.0 1205.0" stroke-width="2.64"/>
<circle cx="851.0" cy="1173.3" r="5.2" stroke-width="2.88" fill="none"/>
<path d="M847.5 1173.3L854.5 1173.3" stroke-width="1.20"/>
<path d="M851.0 1169.8L851.0 1176.8" stroke-width="1.20"/>
<path d="M829.0 1175.0L845.0 1174.0" stroke-width="1.86"/>
<path d="M829.0 1175.0L832.0 1172.8" stroke-width="1.44"/>
<path d="M831.0 1172.8L831.0 1177.3" stroke-width="1.44"/>
<path d="M866 1153 q2.5 -5.5 5 -2 l2 7" stroke-width="2.64" fill="none" />
<path d="M894.0 1177.5L901.0 1180.5" stroke-width="2.40"/>
<circle cx="827.4" cy="1202.1" r="2.8" stroke-width="1.20" fill="#000"/>
<path d="M827.4 1202.1L859.3 1228.3" stroke-width="1.86"/>
<circle cx="758.0" cy="1250.8" r="2.6" stroke-width="1.20" fill="#000"/>
<path d="M758.0 1250.8L794.5 1281.6" stroke-width="1.86"/>
<path d="M0.9 3.0 L4.7 1.2 L4.7 15.9" transform="translate(854.2 1235.8)" stroke-width="2.7" stroke-linecap="butt" stroke-linejoin="miter"/>
<path d="M1.6 3.8 C2.8 -0.2 9.6 0.2 9.4 4.6 C9.3 7 7.2 8 4.6 8 C7.6 8 10.2 9.2 10.2 12 C10.2 16.8 2.4 17.2 1.1 12.6" transform="translate(862.8 1235.8)" stroke-width="2.7" stroke-linecap="butt" stroke-linejoin="miter"/>
<path d="M0.9 3.0 L4.7 1.2 L4.7 15.9" transform="translate(783.3 1287.4)" stroke-width="2.7" stroke-linecap="butt" stroke-linejoin="miter"/>
<path d="M8.6 15.9 L8.6 1.6 L1.2 12 L11.6 12" transform="translate(791.9 1287.4)" stroke-width="2.7" stroke-linecap="butt" stroke-linejoin="miter"/>
<path d="M758 1182 C740 1164 710 1155.5 675 1155 C640 1155.5 610 1168 589 1188 L575 1181 L567 1222 L596.5 1194.5 L593 1192.5 C612 1175 640 1161.8 675 1160.6 C710 1161 738 1169 758 1183 Z" stroke-width="0.96" fill="#000" />
<ellipse cx="569.0" cy="1271.0" rx="27.0" ry="31.0" transform="rotate(8 569.0 1271.0)" stroke-width="0.6" fill="#000"/>
<ellipse cx="571.6" cy="1271.8" rx="27.1" ry="31.9" transform="rotate(8 571.6 1271.8)" stroke-width="0.6" fill="#fff"/>
<ellipse cx="575.3" cy="1272.8" rx="27.3" ry="33.2" transform="rotate(8 575.3 1272.8)" stroke-width="0.6" fill="#000"/>
<ellipse cx="578.4" cy="1273.8" rx="27.4" ry="34.3" transform="rotate(8 578.4 1273.8)" stroke-width="0.6" fill="#fff"/>
<ellipse cx="582.1" cy="1274.8" rx="27.6" ry="35.6" transform="rotate(8 582.1 1274.8)" stroke-width="0.6" fill="#000"/>
<ellipse cx="585.2" cy="1275.7" rx="27.8" ry="36.7" transform="rotate(8 585.2 1275.7)" stroke-width="0.6" fill="#fff"/>
<ellipse cx="586.7" cy="1276.2" rx="27.8" ry="37.2" transform="rotate(8 586.7 1276.2)" stroke-width="0.6" fill="#000"/>
<ellipse cx="603.3" cy="1281.1" rx="28.6" ry="43.0" transform="rotate(8 603.3 1281.1)" stroke-width="0.6" fill="#000"/>
<ellipse cx="590.6" cy="1277.3" rx="28.0" ry="38.6" transform="rotate(8 590.6 1277.3)" stroke="#fff" stroke-width="1.5" fill="none" pathLength="100" stroke-dasharray="0 57 27 16" stroke-linecap="butt"/>
<ellipse cx="594.4" cy="1278.5" rx="28.2" ry="39.9" transform="rotate(8 594.4 1278.5)" stroke="#fff" stroke-width="1.5" fill="none" pathLength="100" stroke-dasharray="0 57 27 16" stroke-linecap="butt"/>
<ellipse cx="598.6" cy="1279.7" rx="28.4" ry="41.4" transform="rotate(8 598.6 1279.7)" stroke="#fff" stroke-width="1.5" fill="none" pathLength="100" stroke-dasharray="0 57 27 16" stroke-linecap="butt"/>
<ellipse cx="603.6" cy="1281.2" rx="28.6" ry="43.1" transform="rotate(8 603.6 1281.2)" stroke="#fff" stroke-width="1.5" fill="none" pathLength="100" stroke-dasharray="0 57 27 16" stroke-linecap="butt"/>
<ellipse cx="607.5" cy="1282.3" rx="28.8" ry="44.5" transform="rotate(8 607.5 1282.3)" stroke-width="2.2" fill="#fff"/>
<ellipse cx="607.3" cy="1284" rx="21.3" ry="38.6" transform="rotate(8 607.3 1284)" stroke-width="1" fill="#000"/>
<ellipse cx="611.4" cy="1285.3" rx="16.4" ry="33.7" transform="rotate(8 611.4 1285.3)" stroke-width="1" fill="#fff"/>
<ellipse cx="612.4" cy="1285.4" rx="13.3" ry="29.7" transform="rotate(8 612.4 1285.4)" stroke-width="1" fill="#000"/>
<ellipse cx="613.4" cy="1285" rx="10.2" ry="24.5" transform="rotate(8 613.4 1285)" stroke-width="1" fill="#fff"/>
<ellipse cx="613.2" cy="1286.5" rx="7.6" ry="20" transform="rotate(8 613.2 1286.5)" stroke-width="1" fill="#000"/>
<ellipse cx="614.5" cy="1287.5" rx="5" ry="15" transform="rotate(8 614.5 1287.5)" stroke-width="1" fill="#fff"/>
<path d="M559.5 1323.0L562.5 1320.5L606.0 1333.5L606.0 1342.0L600.0 1342.0L576.0 1333.5L576.0 1337.0L562.0 1341.5L559.5 1340.0Z" stroke-width="1.68" fill="#000"/>
<path d="M565.0 1323.6L603.0 1335.2L603.0 1338.4L567.0 1327.0Z" stroke-width="0.96" fill="#fff"/>
<path d="M565.5 1330.5L565.5 1336.5" stroke="#fff" stroke-width="1.92"/>
<path d="M609.0 1280.0L622.4 1274.6L622.4 1334.0L609.0 1341.5Z" stroke-width="1.80" fill="#000"/>
<path d="M605.6 1281.8L609.0 1280.2L609.0 1341.6L605.6 1341.0Z" stroke-width="1.80" fill="#fff"/>
<path d="M605.6 1281.8L619.0 1276.0L622.4 1274.6L609.0 1280.2Z" stroke-width="1.44" fill="#fff"/>
<path d="M604.5 1279 Q605 1271.5 612 1270.5 Q618.5 1270.5 620.5 1274.5" stroke="#000" stroke-width="2" fill="none"/>
<path d="M623.4 1310 L636 1319.2" stroke="#000" stroke-width="4.4" stroke-dasharray="5 2.2" stroke-linecap="butt" fill="none"/>
<path d="M636 1319.2 C646 1327 650 1338 648 1349 C646 1358 640.5 1364 641.2 1372.5 C642.5 1381 650 1387.5 657.5 1390.8" stroke-width="4.56" fill="none" />
<circle cx="660.2" cy="1392.0" r="2.6" stroke-width="1.92" fill="#000"/>
<path d="M665.8 1382.5 q3.5 -3 6.5 0 M667.5 1387 q3 2 -0.5 6" stroke-width="3.84" fill="none" />
</g>
</svg>
</body></html>
